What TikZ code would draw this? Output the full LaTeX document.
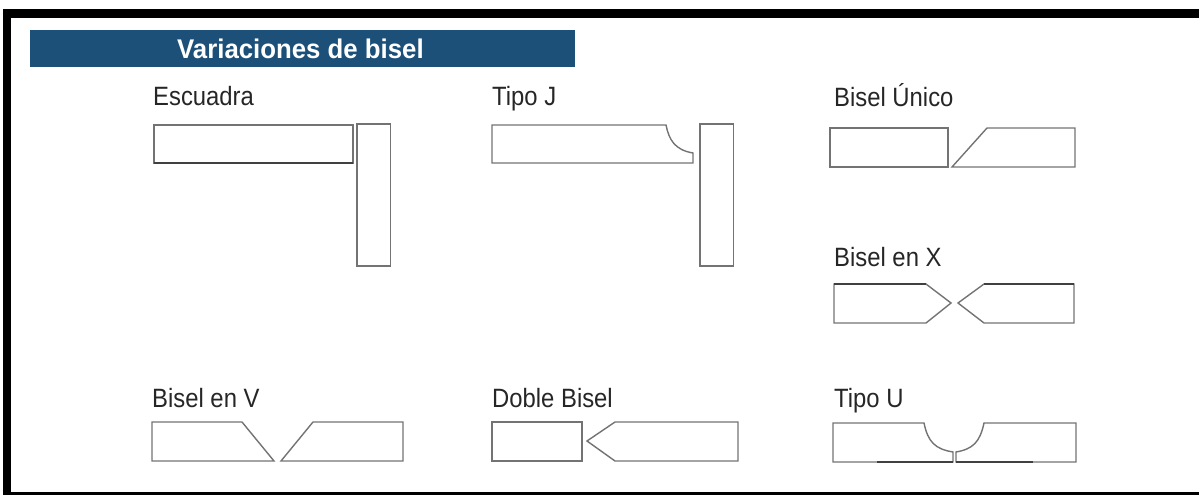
\documentclass[tikz,border=0pt]{standalone}
\usepackage{fontspec}
\setmainfont[FakeStretch=0.9]{Liberation Sans}
\newfontfamily\bannerfont[FakeStretch=0.955]{Liberation Sans Bold}
\definecolor{bannerblue}{HTML}{1C5079}
\definecolor{profilegray}{HTML}{737373}
\tikzset{
	profile/.style={draw=profilegray,line width=1.4pt,line join=miter},
	darkedge/.style={draw=black!75,line width=1.4pt},
	titlelabel/.style={anchor=base west,inner sep=0pt,text=black!85,font=\fontsize{26.5}{29}\selectfont},
}
\begin{document}
\begin{tikzpicture}[x=1pt,y=-1pt]
	\useasboundingbox (0,0) rectangle (1199,495);
	
	% frame
	\fill[black] (3,9) rectangle (1199,18);
	\fill[black] (3,9) rectangle (11,495);
	\fill[black] (3,492) rectangle (1199,495);
	
	% banner
	\fill[bannerblue] (30,30) rectangle (575,67);
	\node[anchor=base west,inner sep=0pt,text=white,font=\fontsize{27}{29}\bannerfont] (banner) at (177,59) {Variaciones de bisel};
	
	% labels
	\node[titlelabel] (escuadra) at (153,105) {Escuadra};
	\node[titlelabel] (tipoj) at (492,105) {Tipo J};
	\node[titlelabel] (biselunico) at (834,106) {Bisel Único};
	\node[titlelabel] (biselx) at (834,266) {Bisel en X};
	\node[titlelabel] (biselv) at (152,407) {Bisel en V};
	\node[titlelabel] (doble) at (492,407) {Doble Bisel};
	\node[titlelabel] (tipou) at (834,407) {Tipo U};
	
	% escuadra and tipo J
	\draw[profile] (154,125) rectangle (353,163);
	\draw[darkedge] (154,163) -- (353,163);
	\draw[profile] (492,125) -- (666,125) .. controls (669,140) and (675,150) .. (693,153) -- (693,163) -- (492,163) -- cycle;
	\foreach \x in {357,700}
	{
		\draw[profile] (\x,124) rectangle (\x+33.5,266);
	}
	
	% bisel unico
	\draw[profile] (830,128) rectangle (948,167);
	\draw[profile] (952,167) -- (987,128) -- (1075,128) -- (1075,167) -- cycle;
	
	% bisel en X
	\draw[profile] (834,284) -- (926,284) -- (951,303) -- (926,323) -- (834,323) -- cycle;
	\draw[profile] (1074,284) -- (984,284) -- (958,303) -- (984,323) -- (1074,323) -- cycle;
	\draw[darkedge] (834,284) -- (926,284);
	\draw[darkedge] (984,284) -- (1074,284);
	
	% bisel en V
	\draw[profile] (152,422) -- (242,422) -- (274,461) -- (152,461) -- cycle;
	\draw[profile] (281,461) -- (313,422) -- (403,422) -- (403,461) -- cycle;
	
	% doble bisel
	\draw[profile] (492,422) rectangle (582,461);
	\draw[profile] (738,422) -- (615,422) -- (587,441) -- (615,461) -- (738,461) -- cycle;
	
	% tipo U
	\draw[profile] (833,423) -- (924,423) .. controls (928,442) and (935,449) .. (953,452) -- (953,462) -- (833,462) -- cycle;
	\draw[profile] (1076,423) -- (984,423) .. controls (980,442) and (973,449) .. (956,452) -- (956,462) -- (1076,462) -- cycle;
	\draw[darkedge] (877,462) -- (953,462);
	\draw[darkedge] (956,462) -- (1033,462);
\end{tikzpicture}
\end{document}
